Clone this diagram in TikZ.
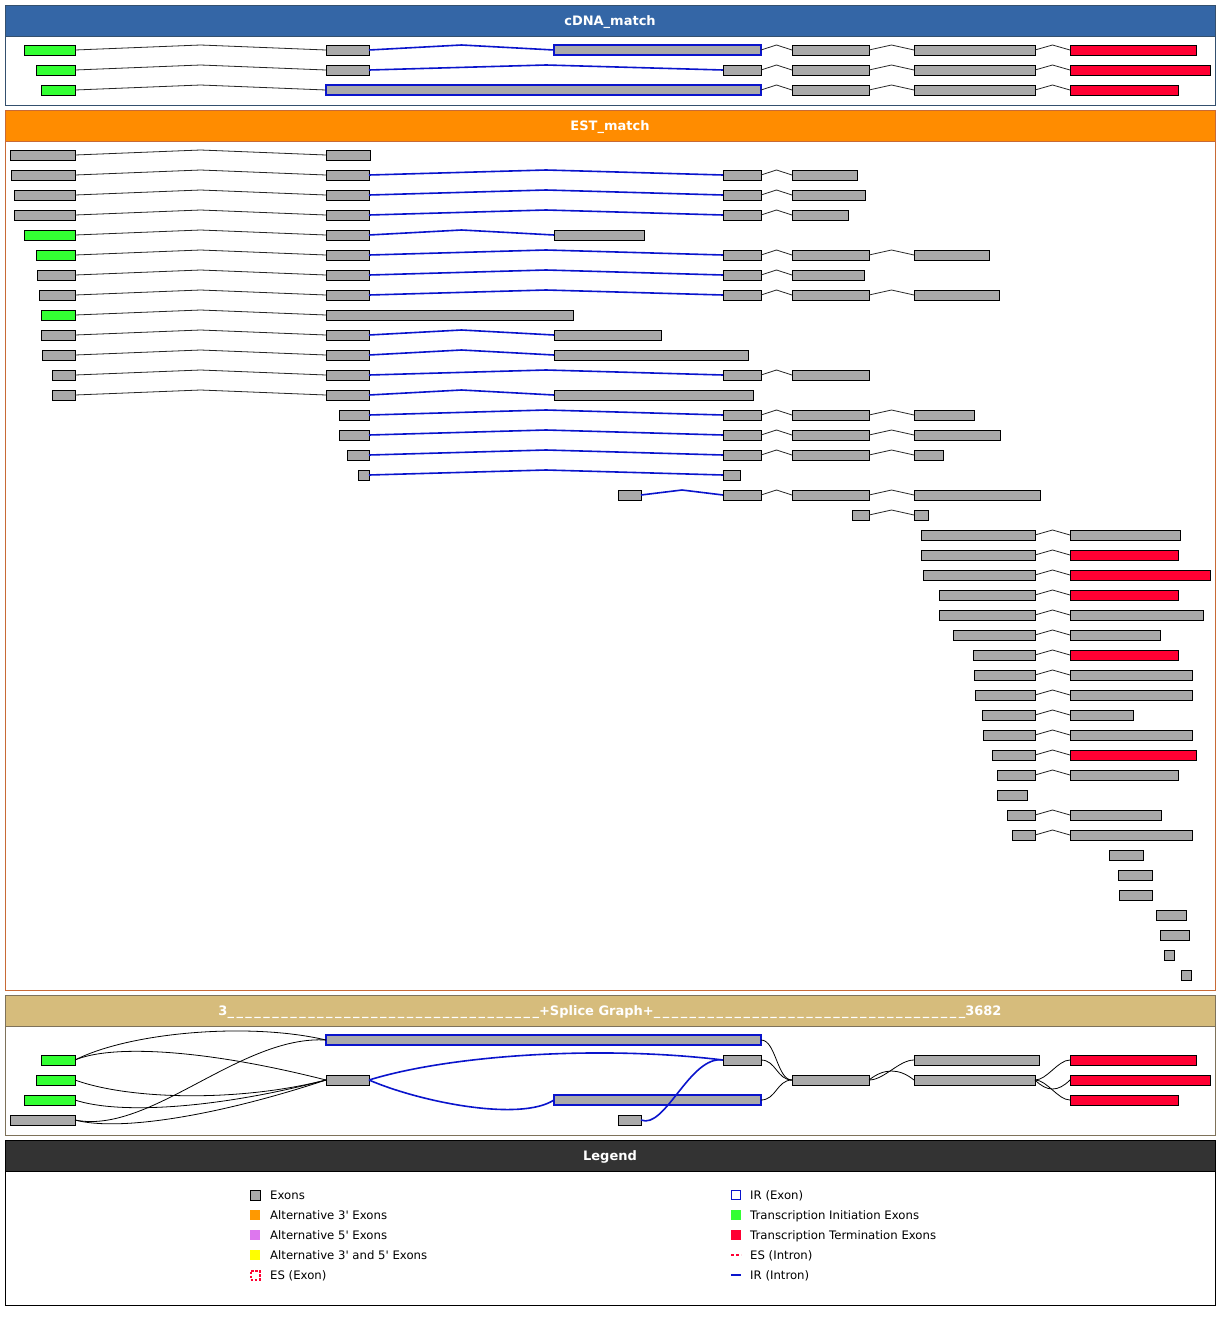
\documentclass[tikz,border=0pt]{standalone}
\usepackage{fontspec}
\newfontfamily\hdfont{DejaVu Sans}
\newfontfamily\usfont[LetterSpace=19]{DejaVu Sans}
\newfontfamily\lgfont{DejaVu Sans}
\usetikzlibrary{calc}
\definecolor{cdnahd}{HTML}{3466A6}
\definecolor{cdnabd}{HTML}{34506E}
\definecolor{esthd}{HTML}{FF8C00}
\definecolor{estbd}{HTML}{C86A36}
\definecolor{sghd}{HTML}{D6BC7C}
\definecolor{sgbd}{HTML}{7E725A}
\definecolor{lghd}{HTML}{333333}
\definecolor{exgray}{HTML}{AAAAAA}
\definecolor{initgreen}{HTML}{33FF33}
\definecolor{termred}{HTML}{FF0033}
\definecolor{irblue}{HTML}{0A14CC}
\definecolor{alt3}{HTML}{FF9900}
\definecolor{alt5}{HTML}{DD77EE}
\definecolor{alt35}{HTML}{FFFF00}
\tikzset{
  exon/.style={rectangle, draw=black, line width=1pt, fill=exgray, minimum height=10pt, inner sep=0pt, outer sep=0pt, anchor=west},
  init/.style={exon, fill=initgreen},
  term/.style={exon, fill=termred},
  irex/.style={exon, draw=irblue, line width=1.6pt},
  intr/.style={draw=black!85, line width=0.8pt},
  irin/.style={draw=irblue, line width=1.6pt},
  sgc/.style={draw=black, line width=0.8pt},
  sgb/.style={draw=irblue, line width=1.6pt},
  hdtext/.style={text=white, font=\hdfont\bfseries\fontsize{13}{15}\selectfont, inner sep=0pt, anchor=base},
  lgtext/.style={text=black, font=\lgfont\fontsize{11.7}{14}\selectfont, inner sep=0pt, anchor=base west},
  lgbox/.style={rectangle, minimum width=10pt, minimum height=10pt, inner sep=0pt, outer sep=0pt, anchor=center},
}
\newcommand\ex[5]{\node[#5, minimum width={(#3-#2)*1pt}] (#1) at (#2,#4) {};}
\newcommand\intron[3][intr]{\draw[#1] (#2.east) -- ($(#2.east)!.5!(#3.west)+(0,-5)$) -- (#3.west);}
\begin{document}
\begin{tikzpicture}[x=1pt,y=-1pt]
\useasboundingbox (0,0) rectangle (1220,1325);
\fill[white] (0,0) rectangle (1220,1325);
% ---------- panels ----------
\filldraw[fill=white, draw=cdnabd, line width=1pt] (5,5) rectangle (1215,105);
\filldraw[fill=cdnahd, draw=cdnabd, line width=1pt] (5,5) rectangle (1215,36);
\node[hdtext] (t1) at (610,25.5) {cDNA\_match};
\filldraw[fill=white, draw=estbd, line width=1pt] (5,110) rectangle (1215,990);
\filldraw[fill=esthd, draw=estbd, line width=1pt] (5,110) rectangle (1215,141);
\node[hdtext] (t2) at (610,130.5) {EST\_match};
\filldraw[fill=white, draw=sgbd, line width=1pt] (5,995) rectangle (1215,1135);
\filldraw[fill=sghd, draw=sgbd, line width=1pt] (5,995) rectangle (1215,1026);
\node[hdtext] (t3) at (610,1015.5) {3{\usfont\_\_\_\_\_\_\_\_\_\_\_\_\_\_\_\_\_\_\_\_\_\_\_\_\_\_\_\_\_\_\_\_\_\_\_}+Splice Graph+{\usfont\_\_\_\_\_\_\_\_\_\_\_\_\_\_\_\_\_\_\_\_\_\_\_\_\_\_\_\_\_\_\_\_\_\_\_}3682};
\filldraw[fill=white, draw=black, line width=1pt] (5,1140) rectangle (1215,1305);
\filldraw[fill=lghd, draw=black, line width=1pt] (5,1140) rectangle (1215,1171);
\node[hdtext] (t4) at (610,1160.5) {Legend};
% ---------- cDNA ----------
\ex{c1a}{24}{75}{50}{init}\ex{c1b}{326}{369}{50}{exon}\ex{c1c}{554}{761}{50}{irex}\ex{c1d}{792}{869}{50}{exon}\ex{c1e}{914}{1035}{50}{exon}\ex{c1f}{1070}{1196}{50}{term}
\intron{c1a}{c1b}\intron[irin]{c1b}{c1c}\intron{c1c}{c1d}\intron{c1d}{c1e}\intron{c1e}{c1f}
\ex{c2a}{36}{75}{70}{init}\ex{c2b}{326}{369}{70}{exon}\ex{c2c}{723}{761}{70}{exon}\ex{c2d}{792}{869}{70}{exon}\ex{c2e}{914}{1035}{70}{exon}\ex{c2f}{1070}{1210}{70}{term}
\intron{c2a}{c2b}\intron[irin]{c2b}{c2c}\intron{c2c}{c2d}\intron{c2d}{c2e}\intron{c2e}{c2f}
\ex{c3a}{41}{75}{90}{init}\ex{c3b}{326}{761}{90}{irex}\ex{c3d}{792}{869}{90}{exon}\ex{c3e}{914}{1035}{90}{exon}\ex{c3f}{1070}{1178}{90}{term}
\intron{c3a}{c3b}\intron{c3b}{c3d}\intron{c3d}{c3e}\intron{c3e}{c3f}
% ---------- EST ----------
\ex{e1a}{10}{75}{155}{exon}\ex{e1b}{326}{370}{155}{exon}\intron{e1a}{e1b}
\ex{e2a}{11}{75}{175}{exon}\ex{e2b}{326}{369}{175}{exon}\ex{e2c}{723}{761}{175}{exon}\ex{e2d}{792}{857}{175}{exon}
\intron{e2a}{e2b}\intron[irin]{e2b}{e2c}\intron{e2c}{e2d}
\ex{e3a}{14}{75}{195}{exon}\ex{e3b}{326}{369}{195}{exon}\ex{e3c}{723}{761}{195}{exon}\ex{e3d}{792}{865}{195}{exon}
\intron{e3a}{e3b}\intron[irin]{e3b}{e3c}\intron{e3c}{e3d}
\ex{e4a}{14}{75}{215}{exon}\ex{e4b}{326}{369}{215}{exon}\ex{e4c}{723}{761}{215}{exon}\ex{e4d}{792}{848}{215}{exon}
\intron{e4a}{e4b}\intron[irin]{e4b}{e4c}\intron{e4c}{e4d}
\ex{e5a}{24}{75}{235}{init}\ex{e5b}{326}{369}{235}{exon}\ex{e5c}{554}{644}{235}{exon}
\intron{e5a}{e5b}\intron[irin]{e5b}{e5c}
\ex{e6a}{36}{75}{255}{init}\ex{e6b}{326}{369}{255}{exon}\ex{e6c}{723}{761}{255}{exon}\ex{e6d}{792}{869}{255}{exon}\ex{e6e}{914}{989}{255}{exon}
\intron{e6a}{e6b}\intron[irin]{e6b}{e6c}\intron{e6c}{e6d}\intron{e6d}{e6e}
\ex{e7a}{37}{75}{275}{exon}\ex{e7b}{326}{369}{275}{exon}\ex{e7c}{723}{761}{275}{exon}\ex{e7d}{792}{864}{275}{exon}
\intron{e7a}{e7b}\intron[irin]{e7b}{e7c}\intron{e7c}{e7d}
\ex{e8a}{39}{75}{295}{exon}\ex{e8b}{326}{369}{295}{exon}\ex{e8c}{723}{761}{295}{exon}\ex{e8d}{792}{869}{295}{exon}\ex{e8e}{914}{999}{295}{exon}
\intron{e8a}{e8b}\intron[irin]{e8b}{e8c}\intron{e8c}{e8d}\intron{e8d}{e8e}
\ex{e9a}{41}{75}{315}{init}\ex{e9b}{326}{573}{315}{exon}\intron{e9a}{e9b}
\ex{e10a}{41}{75}{335}{exon}\ex{e10b}{326}{369}{335}{exon}\ex{e10c}{554}{661}{335}{exon}
\intron{e10a}{e10b}\intron[irin]{e10b}{e10c}
\ex{e11a}{42}{75}{355}{exon}\ex{e11b}{326}{369}{355}{exon}\ex{e11c}{554}{748}{355}{exon}
\intron{e11a}{e11b}\intron[irin]{e11b}{e11c}
\ex{e12a}{52}{75}{375}{exon}\ex{e12b}{326}{369}{375}{exon}\ex{e12c}{723}{761}{375}{exon}\ex{e12d}{792}{869}{375}{exon}
\intron{e12a}{e12b}\intron[irin]{e12b}{e12c}\intron{e12c}{e12d}
\ex{e13a}{52}{75}{395}{exon}\ex{e13b}{326}{369}{395}{exon}\ex{e13c}{554}{753}{395}{exon}
\intron{e13a}{e13b}\intron[irin]{e13b}{e13c}
\ex{e14b}{339}{369}{415}{exon}\ex{e14c}{723}{761}{415}{exon}\ex{e14d}{792}{869}{415}{exon}\ex{e14e}{914}{974}{415}{exon}
\intron[irin]{e14b}{e14c}\intron{e14c}{e14d}\intron{e14d}{e14e}
\ex{e15b}{339}{369}{435}{exon}\ex{e15c}{723}{761}{435}{exon}\ex{e15d}{792}{869}{435}{exon}\ex{e15e}{914}{1000}{435}{exon}
\intron[irin]{e15b}{e15c}\intron{e15c}{e15d}\intron{e15d}{e15e}
\ex{e16b}{347}{369}{455}{exon}\ex{e16c}{723}{761}{455}{exon}\ex{e16d}{792}{869}{455}{exon}\ex{e16e}{914}{943}{455}{exon}
\intron[irin]{e16b}{e16c}\intron{e16c}{e16d}\intron{e16d}{e16e}
\ex{e17b}{358}{369}{475}{exon}\ex{e17c}{723}{740}{475}{exon}\intron[irin]{e17b}{e17c}
\ex{e18b}{618}{641}{495}{exon}\ex{e18c}{723}{761}{495}{exon}\ex{e18d}{792}{869}{495}{exon}\ex{e18e}{914}{1040}{495}{exon}
\intron[irin]{e18b}{e18c}\intron{e18c}{e18d}\intron{e18d}{e18e}
\ex{e19d}{852}{869}{515}{exon}\ex{e19e}{914}{928}{515}{exon}\intron{e19d}{e19e}
\ex{e20a}{921}{1035}{535}{exon}\ex{e20b}{1070}{1180}{535}{exon}\intron{e20a}{e20b}
\ex{e21a}{921}{1035}{555}{exon}\ex{e21b}{1070}{1178}{555}{term}\intron{e21a}{e21b}
\ex{e22a}{923}{1035}{575}{exon}\ex{e22b}{1070}{1210}{575}{term}\intron{e22a}{e22b}
\ex{e23a}{939}{1035}{595}{exon}\ex{e23b}{1070}{1178}{595}{term}\intron{e23a}{e23b}
\ex{e24a}{939}{1035}{615}{exon}\ex{e24b}{1070}{1203}{615}{exon}\intron{e24a}{e24b}
\ex{e25a}{953}{1035}{635}{exon}\ex{e25b}{1070}{1160}{635}{exon}\intron{e25a}{e25b}
\ex{e26a}{973}{1035}{655}{exon}\ex{e26b}{1070}{1178}{655}{term}\intron{e26a}{e26b}
\ex{e27a}{974}{1035}{675}{exon}\ex{e27b}{1070}{1192}{675}{exon}\intron{e27a}{e27b}
\ex{e28a}{975}{1035}{695}{exon}\ex{e28b}{1070}{1192}{695}{exon}\intron{e28a}{e28b}
\ex{e29a}{982}{1035}{715}{exon}\ex{e29b}{1070}{1133}{715}{exon}\intron{e29a}{e29b}
\ex{e30a}{983}{1035}{735}{exon}\ex{e30b}{1070}{1192}{735}{exon}\intron{e30a}{e30b}
\ex{e31a}{992}{1035}{755}{exon}\ex{e31b}{1070}{1196}{755}{term}\intron{e31a}{e31b}
\ex{e32a}{997}{1035}{775}{exon}\ex{e32b}{1070}{1178}{775}{exon}\intron{e32a}{e32b}
\ex{e33a}{997}{1027}{795}{exon}
\ex{e34a}{1007}{1035}{815}{exon}\ex{e34b}{1070}{1161}{815}{exon}\intron{e34a}{e34b}
\ex{e35a}{1012}{1035}{835}{exon}\ex{e35b}{1070}{1192}{835}{exon}\intron{e35a}{e35b}
\ex{e36a}{1109}{1143}{855}{exon}
\ex{e37a}{1118}{1152}{875}{exon}
\ex{e38a}{1119}{1152}{895}{exon}
\ex{e39a}{1156}{1186}{915}{exon}
\ex{e40a}{1160}{1189}{935}{exon}
\ex{e41a}{1164}{1174}{955}{exon}
\ex{e42a}{1181}{1191}{975}{exon}
% ---------- Splice graph ----------
\ex{sIa}{326}{761}{1040}{irex}
\ex{sA}{41}{75}{1060}{init}
\ex{sB}{36}{75}{1080}{init}
\ex{sM}{326}{369}{1080}{exon}
\ex{sC}{24}{75}{1100}{init}
\ex{sIb}{554}{761}{1100}{irex}
\ex{sD}{10}{75}{1120}{exon}
\ex{sG}{723}{761}{1060}{exon}
\ex{sS}{618}{641}{1120}{exon}
\ex{sN}{792}{869}{1080}{exon}
\ex{sP}{914}{1039}{1060}{exon}
\ex{sQ}{914}{1035}{1080}{exon}
\ex{sT1}{1070}{1196}{1060}{term}
\ex{sT2}{1070}{1210}{1080}{term}
\ex{sT3}{1070}{1178}{1100}{term}
\draw[sgc] (sA.east) .. controls +(55,-28) and +(-76,-18) .. (sIa.west);
\draw[sgc] (sA.east) .. controls +(35,-15) and +(-126,-32) .. (sM.west);
\draw[sgc] (sB.east) .. controls +(55,20) and +(-86,22) .. (sM.west);
\draw[sgc] (sC.east) .. controls +(45,15) and +(-106,28) .. (sM.west);
\draw[sgc] (sD.east) .. controls +(45,12) and +(-106,35) .. (sM.west);
\draw[sgc] (sD.east) .. controls +(75,15) and +(-86,-5) .. (sIa.west);
\draw[sgb] (sM.east) .. controls +(81,-25) and +(-123,-15) .. (sG.west);
\draw[sgb] (sM.east) .. controls +(51,22) and +(-34,22) .. (sIb.west);
\draw[sgb] (sS.east) .. controls +(24,10) and +(-33,-5) .. (sG.west);
\draw[sgc] (sIa.east) .. controls +(15,0) and +(-15,0) .. (sN.west);
\draw[sgc] (sG.east) .. controls +(15,0) and +(-15,0) .. (sN.west);
\draw[sgc] (sIb.east) .. controls +(15,0) and +(-15,0) .. (sN.west);
\draw[sgc] (sN.east) .. controls +(15,0) and +(-15,0) .. (sP.west);
\draw[sgc] (sN.east) .. controls +(15,-12) and +(-15,-12) .. (sQ.west);
\draw[sgc] (sQ.east) .. controls +(12,0) and +(-12,0) .. (sT1.west);
\draw[sgc] (sQ.east) .. controls +(12,12) and +(-12,12) .. (sT2.west);
\draw[sgc] (sQ.east) .. controls +(12,0) and +(-12,0) .. (sT3.west);
% ---------- Legend ----------
\node[lgbox, draw=black, line width=1pt, fill=exgray] (L1) at (255,1195) {};
\node[lgtext] (L1t) at (270,1199.2) {Exons};
\node[lgbox, fill=alt3] (L2) at (255,1215) {};
\node[lgtext] (L2t) at (270,1219.2) {Alternative 3\textquotesingle{} Exons};
\node[lgbox, fill=alt5] (L3) at (255,1235) {};
\node[lgtext] (L3t) at (270,1239.2) {Alternative 5\textquotesingle{} Exons};
\node[lgbox, fill=alt35] (L4) at (255,1255) {};
\node[lgtext] (L4t) at (270,1259.2) {Alternative 3\textquotesingle{} and 5\textquotesingle{} Exons};
\node[lgbox, draw=termred, line width=2pt, dash pattern=on 2.5pt off 1.5pt, fill=white, minimum width=9pt, minimum height=9pt] (L5) at (255,1275) {};
\node[lgtext] (L5t) at (270,1279.2) {ES (Exon)};
\node[lgbox, draw=irblue, line width=1.8pt, fill=white, minimum width=9pt, minimum height=9pt] (R1) at (736,1195) {};
\node[lgtext] (R1t) at (750,1199.2) {IR (Exon)};
\node[lgbox, fill=initgreen] (R2) at (736,1215) {};
\node[lgtext] (R2t) at (750,1219.2) {Transcription Initiation Exons};
\node[lgbox, fill=termred] (R3) at (736,1235) {};
\node[lgtext] (R3t) at (750,1239.2) {Transcription Termination Exons};
\coordinate (R4a) at (731,1255); \coordinate (R4b) at (741,1255);
\draw[termred, line width=1.8pt, dash pattern=on 3pt off 2pt] (R4a) -- (R4b);
\node[lgtext] (R4t) at (750,1259.2) {ES (Intron)};
\coordinate (R5a) at (731,1275); \coordinate (R5b) at (741,1275);
\draw[irblue, line width=1.8pt] (R5a) -- (R5b);
\node[lgtext] (R5t) at (750,1279.2) {IR (Intron)};
\end{tikzpicture}
\end{document}
